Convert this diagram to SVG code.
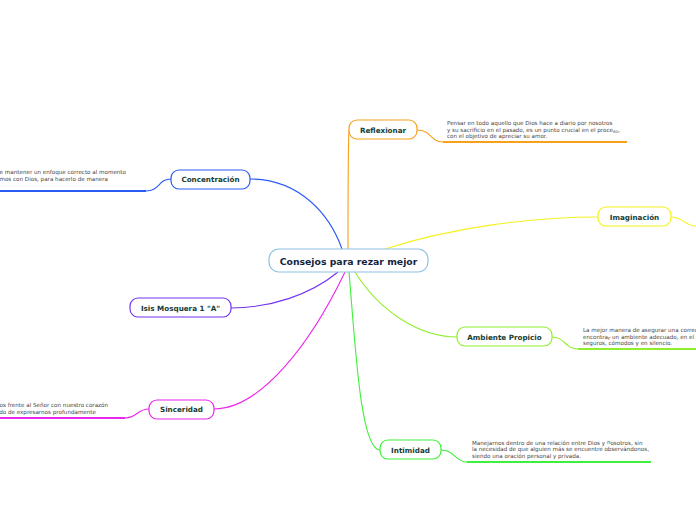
<svg xmlns="http://www.w3.org/2000/svg" width="696" height="520" viewBox="0 0 696 520">
<style>
.node{fill:#fff;stroke-width:1.2}
.lbl{font-family:Verdana,"DejaVu Sans",sans-serif;font-weight:bold;font-size:7.2px;fill:#163d36;text-anchor:middle}
.main{font-family:Verdana,"DejaVu Sans",sans-serif;font-weight:bold;font-size:9.3px;fill:#14243f;text-anchor:middle}
.desc{font-family:Verdana,"DejaVu Sans",sans-serif;font-size:5.6px;fill:#444}
.con{fill:none;stroke-width:1.1}
.ul{fill:none;stroke-width:2}
</style>
<rect width="696" height="520" fill="#fff"/>
<g id="connectors">
  <path class="con" stroke="#f7a01a" d="M348,249 C348,200 348,150 349,130"/>
  <path class="con" stroke="#2a5cf5" d="M342,249 C330,215 300,179 250,179"/>
  <path class="con" stroke="#f4f21e" d="M385,249 C450,228 530,217 598,217"/>
  <path class="con" stroke="#90ee2a" d="M355,272 C380,312 420,337 457,337"/>
  <path class="con" stroke="#3ef03a" d="M349,272 C355,340 360,450 380,450"/>
  <path class="con" stroke="#7433f0" d="M338,272 C310,295 270,308 231,308"/>
  <path class="con" stroke="#ec25ec" d="M345,272 C310,345 260,409 214,409"/>
  <path class="con" stroke="#f7a01a" d="M417,130 C432,130 430,142 443,142"/>
  <path class="con" stroke="#2a5cf5" d="M171,179 C158,179 160,191 146,191"/>
  <path class="con" stroke="#f4f21e" d="M671,217 C684,217 684,226 696,226"/>
  <path class="con" stroke="#90ee2a" d="M552,337 C565,337 565,349 578,349"/>
  <path class="con" stroke="#3ef03a" d="M441,450 C455,450 455,462 467,462"/>
  <path class="con" stroke="#ec25ec" d="M149,409 C137,409 137,418 125,418"/>
  <path class="ul" stroke="#f7a01a" d="M443,142 H627"/>
  <path class="ul" stroke="#2a5cf5" d="M0,191 H146"/>
  <path class="ul" stroke="#90ee2a" d="M578,349 H696"/>
  <path class="ul" stroke="#3ef03a" d="M467,462 H651"/>
  <path class="ul" stroke="#ec25ec" d="M0,418 H125"/>
</g>
<g id="center">
  <rect class="node" x="269" y="249" width="159" height="23" rx="10" stroke="#8dc2e6"/>
  <text class="main" x="348.5" y="264.5">Consejos para rezar mejor</text>
</g>
<g id="reflexionar">
  <rect class="node" x="349" y="120" width="68" height="19" rx="8" stroke="#f7a01a"/>
  <text class="lbl" x="383" y="132.5">Reflexionar</text>
  <text class="desc" x="447" y="125">Pensar en todo aquello que Dios hace a diario por nosotros</text>
  <text class="desc" x="447" y="131.5">y su sacrificio en el pasado, es un punto crucial en el proce<tspan dy="1" font-size="4.5">so</tspan><tspan dy="-1">,</tspan></text>
  <text class="desc" x="447" y="138">con el objetivo de apreciar su amor.</text>
</g>
<g id="concentracion">
  <rect class="node" x="171" y="170" width="79" height="19" rx="8" stroke="#2a5cf5"/>
  <text class="lbl" x="210.5" y="182">Concentración</text>
  <text class="desc" x="126" y="174" text-anchor="end">te mantener un enfoque correcto al momento</text>
  <text class="desc" x="108" y="181" text-anchor="end">amos con Dios, para hacerlo de manera</text>
</g>
<g id="imaginacion">
  <rect class="node" x="598" y="207" width="73" height="19" rx="8" stroke="#f4f21e"/>
  <text class="lbl" x="634.5" y="219.5">Imaginación</text>
</g>
<g id="ambiente">
  <rect class="node" x="457" y="327" width="95" height="19" rx="8" stroke="#90ee2a"/>
  <text class="lbl" x="504.5" y="339.5">Ambiente Propicio</text>
  <text class="desc" x="583" y="332">La mejor manera de asegurar una correc</text>
  <text class="desc" x="583" y="338.5">encontra<tspan dy="1">r</tspan><tspan dy="-1"> un ambiente adecuado, en el c</tspan></text>
  <text class="desc" x="583" y="345">seguros, cómodos y en silencio.</text>
</g>
<g id="intimidad">
  <rect class="node" x="380" y="440" width="61" height="19" rx="8" stroke="#3ef03a"/>
  <text class="lbl" x="410.5" y="452.5">Intimidad</text>
  <text class="desc" x="472" y="444.5">Manejarnos dentro de una relación entre Dios y <tspan dy="-0.8">n</tspan><tspan dy="0.8">osotros, sin</tspan></text>
  <text class="desc" x="472" y="451">la necesidad de que alguien más se encuentre observándonos,</text>
  <text class="desc" x="472" y="457.5">siendo una oración personal y privada.</text>
</g>
<g id="isis">
  <rect class="node" x="130" y="298" width="101" height="19" rx="8" stroke="#7433f0"/>
  <text class="lbl" x="180.5" y="310.5">Isis Mosquera 1 "A"</text>
</g>
<g id="sinceridad">
  <rect class="node" x="149" y="400" width="65" height="19" rx="8" stroke="#ec25ec"/>
  <text class="lbl" x="181.5" y="412">Sinceridad</text>
  <text class="desc" x="108" y="407" text-anchor="end">tos frente al Señor con nuestro corazón</text>
  <text class="desc" x="96" y="413.5" text-anchor="end">do de expresarnos profundamente</text>
</g>
</svg>
